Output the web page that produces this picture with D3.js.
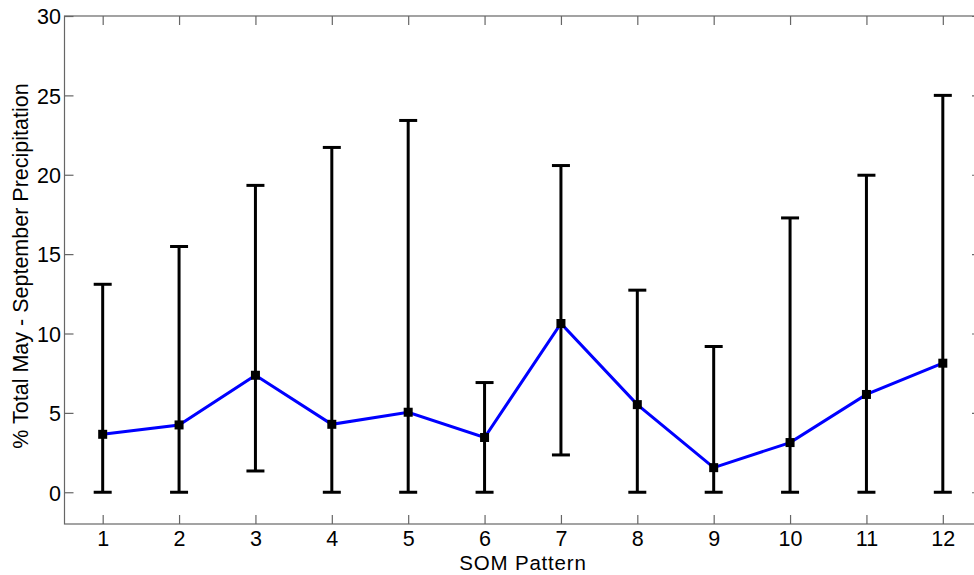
<!DOCTYPE html>
<html>
<head>
<meta charset="utf-8">
<script src="https://cdn.jsdelivr.net/npm/d3@7"></script>
<style>
  html, body { margin: 0; padding: 0; background: #fff; }
  svg { display: block; }
  text { font-family: "Liberation Sans", Arial, sans-serif; }
</style>
</head>
<body>
<svg id="chart" width="974" height="575"></svg>
<script>
// SOM pattern index and precipitation share (% of total May–September)
const patterns = [1, 2, 3, 4, 5, 6, 7, 8, 9, 10, 11, 12];
const meanPct  = [3.65, 4.24, 7.37, 4.28, 5.04, 3.45, 10.63, 5.52, 1.55, 3.13, 6.16, 8.13];
const upperPct = [13.1, 15.48, 19.33, 21.72, 23.42, 6.91, 20.58, 12.73, 9.18, 17.28, 19.97, 25.0];
const lowerPct = [0, 0, 1.34, 0, 0, 0, 2.35, 0, 0, 0, 0, 0];
const yTicks   = [0, 5, 10, 15, 20, 25, 30];
const xLabel = "SOM Pattern";
const yLabel = "% Total May - September Precipitation";

const svg = d3.select("#chart");
const plotLeft = 64.5, plotRight = 981, plotTop = 16, plotBottom = 524;

const x = d3.scaleLinear().domain([0.5, 12.5]).range([plotLeft, plotRight]);
const y = d3.scaleLinear().domain([-2, 30]).range([plotBottom, plotTop]);

const axisColor = "#666";
const tickLen = 9;
const fontSize = 21.5;

// frame box
svg.append("rect")
  .attr("x", plotLeft).attr("y", plotTop)
  .attr("width", plotRight - plotLeft).attr("height", plotBottom - plotTop)
  .attr("fill", "none").attr("stroke", axisColor).attr("stroke-width", 1.2);

// axes with inward ticks
const xAxis = d3.axisBottom(x).tickValues(patterns).tickSize(-tickLen).tickFormat(d3.format("d"));
const gx = svg.append("g").attr("transform", `translate(0,${plotBottom})`).call(xAxis);
const xAxisTop = d3.axisTop(x).tickValues(patterns).tickSize(-tickLen).tickFormat("");
const gxt = svg.append("g").attr("transform", `translate(0,${plotTop})`).call(xAxisTop);
const yAxis = d3.axisLeft(y).tickValues(yTicks).tickSize(-tickLen).tickFormat(d3.format("d"));
const gy = svg.append("g").attr("transform", `translate(${plotLeft},0)`).call(yAxis);
const yAxisR = d3.axisRight(y).tickValues(yTicks).tickSize(-tickLen).tickFormat("");
const gyr = svg.append("g").attr("transform", `translate(${plotRight},0)`).call(yAxisR);

[gx, gxt, gy, gyr].forEach(g => {
  g.select(".domain").remove();
  g.selectAll(".tick line").attr("stroke", axisColor).attr("stroke-width", 1.2);
  g.selectAll(".tick text").attr("fill", "#000").attr("font-size", fontSize)
    .attr("font-family", "'Liberation Sans', Arial, sans-serif");
});
gx.selectAll(".tick text").attr("dy", 0).attr("y", 22);
gy.selectAll(".tick text").attr("x", -3.5).attr("dy", "0.36em");

// error bars
const capHalf = 9;
const bars = svg.append("g").attr("stroke", "#000").attr("stroke-width", 3).attr("fill", "none");
patterns.forEach((p, i) => {
  const cx = x(p);
  bars.append("line").attr("x1", cx).attr("x2", cx).attr("y1", y(lowerPct[i])).attr("y2", y(upperPct[i]));
  bars.append("line").attr("x1", cx - capHalf).attr("x2", cx + capHalf).attr("y1", y(upperPct[i])).attr("y2", y(upperPct[i]));
  bars.append("line").attr("x1", cx - capHalf).attr("x2", cx + capHalf).attr("y1", y(lowerPct[i])).attr("y2", y(lowerPct[i]));
});

// mean line
const line = d3.line().x((d, i) => x(patterns[i])).y(d => y(d));
svg.append("path").datum(meanPct)
  .attr("d", line)
  .attr("fill", "none").attr("stroke", "#0000ff").attr("stroke-width", 3)
  .attr("stroke-linejoin", "miter");

// square markers
const ms = 9;
svg.append("g").selectAll("rect").data(meanPct).join("rect")
  .attr("x", (d, i) => x(patterns[i]) - ms / 2)
  .attr("y", d => y(d) - ms / 2)
  .attr("width", ms).attr("height", ms)
  .attr("fill", "#000");

// axis titles
svg.append("text")
  .attr("x", 523).attr("y", 570)
  .attr("text-anchor", "middle").attr("font-size", 20.5).attr("fill", "#000")
  .attr("letter-spacing", 0.8)
  .text(xLabel);

svg.append("text")
  .attr("transform", `translate(28,266) rotate(-90)`)
  .attr("text-anchor", "middle").attr("font-size", fontSize).attr("fill", "#000")
  .text(yLabel);
</script>
</body>
</html>
